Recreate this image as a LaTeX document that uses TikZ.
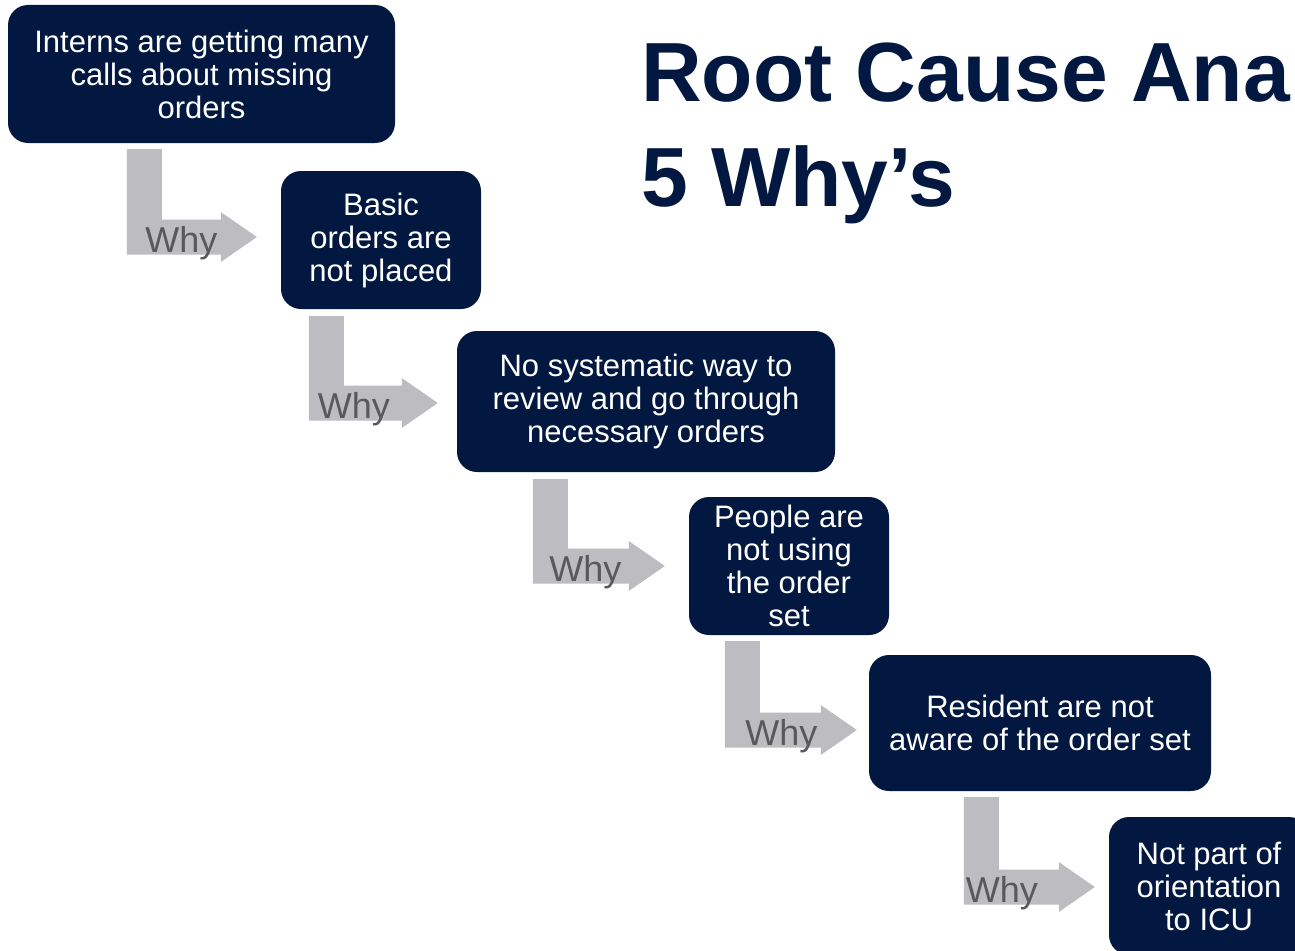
\documentclass[tikz,border=0pt]{standalone}
\usepackage{fontspec}
\setmainfont{Liberation Sans}
\usepackage{tikz}
\usetikzlibrary{calc}
\definecolor{navybox}{RGB}{2, 24, 64}
\definecolor{whyshaft}{RGB}{188, 188, 193}
\definecolor{whyword}{RGB}{89, 89, 89}

\begin{document}
\begin{tikzpicture}[x=1pt, y=-1pt,
  causebox/.style={fill=navybox, text=white, rounded corners=20pt, inner sep=0pt, align=center, font=\fontsize{31}{33}\selectfont},
  whylabel/.style={text=whyword, anchor=base, inner sep=0pt, font=\fontsize{36}{36}\selectfont},
  whyfill/.style={fill=whyshaft},
  titletext/.style={text=navybox, inner sep=0pt, align=left, font=\fontsize{84}{105}\selectfont\bfseries}]

  % Frame
  \useasboundingbox (0,0) rectangle (1295,950);
  \clip (0,0) rectangle (1295,950);

  % Cause boxes
  \node[causebox, minimum width=387pt, minimum height=138pt] (c1) at (201.5,74) {Interns are getting many\\calls about missing\\orders};
  \node[causebox, minimum width=200pt, minimum height=138pt] (c2) at (381,240) {Basic\\orders are\\not placed};
  \node[causebox, minimum width=378pt, minimum height=141pt] (c3) at (646,401.5) {No systematic way to\\review and go through\\necessary orders};
  \node[causebox, minimum width=200pt, minimum height=138pt] (c4) at (789,566) {People are\\not using\\the order\\set};
  \node[causebox, minimum width=342pt, minimum height=136pt] (c5) at (1040,723) {Resident are not\\aware of the order set};
  \node[causebox, minimum width=200pt, minimum height=138pt] (c6) at (1209,886) {Not part of\\orientation\\to ICU};

  % Arrow ends
  \coordinate (s1) at ([shift={(119,6)}]c1.south west);
  \coordinate (t1) at ([shift={(-24,-3)}]c2.west);
  \coordinate (s2) at ([shift={(28,7)}]c2.south west);
  \coordinate (t2) at ([shift={(-19,1.5)}]c3.west);
  \coordinate (s3) at ([shift={(76,7)}]c3.south west);
  \coordinate (t3) at ([shift={(-24,0)}]c4.west);
  \coordinate (s4) at ([shift={(36,6)}]c4.south west);
  \coordinate (t4) at ([shift={(-12,7)}]c5.west);
  \coordinate (s5) at ([shift={(95,6)}]c5.south west);
  \coordinate (t5) at ([shift={(-14,1)}]c6.west);

  % Bent Why arrows
  \foreach \i in {1,...,5}
    \fill[whyfill] let \p1=(s\i), \p2=(t\i) in
      (\x1,\y1) -- (\x1+35pt,\y1) -- (\x1+35pt,\y2+17.5pt) -- (\x2-36pt,\y2+17.5pt)
      -- (\x2-36pt,\y2+25pt) -- (\x2,\y2) -- (\x2-36pt,\y2-25pt)
      -- (\x2-36pt,\y2-17.5pt) -- (\x1,\y2-17.5pt) -- cycle;

  \foreach \i/\dx in {1/-75.5, 2/-84, 3/-79.5, 4/-75.5, 5/-93}
    \node[whylabel] (why\i) at ([shift={(\dx,15)}]t\i) {Why};

  % Title
  \node[titletext, anchor=north west] (title) at (641,43) {Root Cause Ana\\5 Why’s};
\end{tikzpicture}
\end{document}
